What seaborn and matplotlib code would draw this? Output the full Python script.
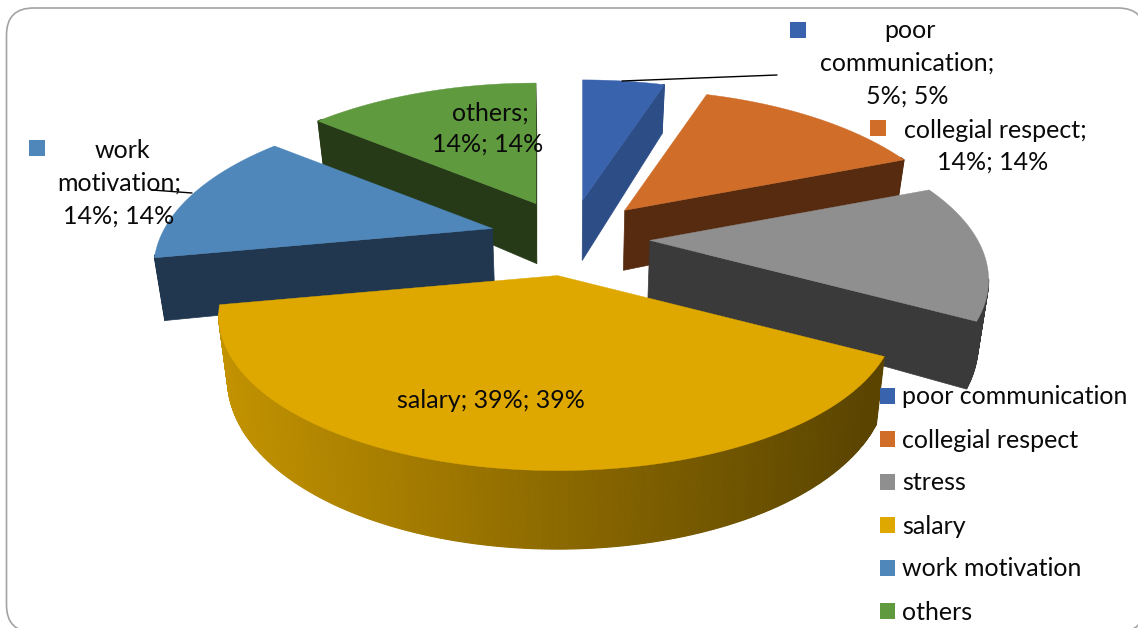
"""Exploded 3D style pie chart of reasons, drawn with seaborn/matplotlib"""
import numpy as np
import pandas as pd
import matplotlib
matplotlib.use('Agg')
import matplotlib.pyplot as plt
import seaborn as sns
from matplotlib.patches import FancyBboxPatch, Patch
from matplotlib.path import Path

categories = ['poor communication', 'collegial respect', 'stress', 'salary', 'work motivation', 'others']
values = [5, 14, 14, 39, 14, 14]
top_colors = ['#3a63ad', '#cf6d29', '#8f8f8f', '#dfa800', '#4f87bb', '#5f9a3e']
wall_colors = ['#2c4d85', '#572b0f', '#3a3a3a', '#8a6a00', '#20374f', '#263a18']

# pie geometry in pixels
CX, CY = 570, 238
EXPLODE_X, EXPLODE_Y = 80, 38
RX, RY = 328, 149
PERSPECTIVE_X, PERSPECTIVE_Y = 0.25, 0.236
DEPTH = 60
SHRINK = 0.975

# data label layout: (x, y) per text line and key square position
label_lines = {
    'poor communication': [('poor', 910, 31), ('communication;', 907, 63), (None, 907, 96)],
    'collegial respect': [('collegial respect;', 995, 130), (None, 993, 162)],
    'stress': [],
    'salary': [('salary; {0}%; {0}%', 491, 401)],
    'work motivation': [('work', 122, 151), ('motivation;', 119, 183), (None, 119, 216)],
    'others': [('others;', 490, 113), (None, 488, 144)],
}
key_pos = {
    'poor communication': (798, 30),
    'collegial respect': (878, 128),
    'salary': (373, 398),
    'work motivation': (37, 148),
}


def project(theta, apex, low=False):
    """Perspective position of a point on the pie rim, top or bottom face"""
    u, v = np.sin(theta), np.cos(theta)
    s = 1 / (1 + PERSPECTIVE_Y * v)
    x = apex[0] + RX * u / (1 + PERSPECTIVE_X * v)
    y = apex[1] - RY * v * s
    if low:
        x = CX + (x - CX) * SHRINK
        y = y + DEPTH * s
    return np.array([x, y])


def draw_slice(ax, start, end, top, wall, gradient=False):
    mid = (start + end) / 2
    apex = (CX + EXPLODE_X * np.sin(mid), CY - EXPLODE_Y * np.cos(mid))
    thetas = np.linspace(start, end, 320 if gradient else 90)
    outline = np.array([apex] + [project(t, apex) for t in thetas])
    path = Path(outline)

    # straight cut faces
    apex_low = (CX + (apex[0] - CX) * SHRINK, apex[1] + DEPTH)
    for t in (start, end):
        rim_top = project(t, apex)
        mid_pt = (rim_top + np.array(apex)) / 2
        if not path.contains_point(mid_pt + [0, 4]):
            poly = np.array([apex, rim_top, project(t, apex, low=True), apex_low])
            ax.fill(poly[:, 0], poly[:, 1], color=wall, lw=0.5, zorder=2)

    # curved outer face, only where it looks towards the viewer
    for a, b in zip(thetas[:-1], thetas[1:]):
        m = project((a + b) / 2, apex)
        if path.contains_point(m + [0, 3]):
            continue
        poly = np.array([project(a, apex), project(b, apex),
                         project(b, apex, low=True), project(a, apex, low=True)])
        color = wall
        if gradient:
            f = np.interp(m[0], [220, 870], [0, 1])
            color = tuple((1 - f) * np.array(matplotlib.colors.to_rgb('#c29200'))
                          + f * np.array(matplotlib.colors.to_rgb('#5a4400')))
        ax.fill(poly[:, 0], poly[:, 1], color=color, lw=0.8, zorder=2)

    ax.fill(outline[:, 0], outline[:, 1], color=top, lw=0.3, zorder=2)


sns.set_theme(style='white')
plt.rcParams['font.family'] = ['Lato', 'DejaVu Sans']

fig = plt.figure(figsize=(11.38, 6.28), dpi=100)
ax = fig.add_axes([0, 0, 1, 1])
ax.set_xlim(0, 1138)
ax.set_ylim(628, 0)
ax.axis('off')

# chart frame, runs off the right and bottom edge
ax.add_patch(FancyBboxPatch((6.5 + 27, 8 + 27), 1145 - 6.5 - 54, 632 - 8 - 54,
                            boxstyle='round,pad=27,rounding_size=27',
                            fc='white', ec='#a3a3a3', lw=1.2, zorder=1))

# slices from back to front
edges = np.cumsum([0] + values) / sum(values) * 2 * np.pi
order = np.argsort([-np.cos((edges[i] + edges[i + 1]) / 2) for i in range(len(values))])
for i in order:
    draw_slice(ax, edges[i], edges[i + 1], top_colors[i], wall_colors[i],
               gradient=categories[i] == 'salary')

# leader lines
ax.plot([622, 777], [81, 75], color='black', lw=1, zorder=3)
ax.plot([152, 192], [190, 193], color='black', lw=1, zorder=3)

# data labels
for name, val in zip(categories, values):
    for text, x, y in label_lines[name]:
        s = f'{val}%; {val}%' if text is None else text.format(val)
        ax.text(x, y, s, ha='center', va='center', fontsize=18, color='#0a0a0a', zorder=4)

keys = pd.DataFrame({'category': list(key_pos),
                     'x': [p[0] for p in key_pos.values()],
                     'y': [p[1] for p in key_pos.values()]})
sns.scatterplot(data=keys, x='x', y='y', hue='category', ax=ax, marker='s', s=120,
                palette=dict(zip(categories, top_colors)), linewidth=0, legend=False, zorder=4)
ax.set_xlim(0, 1138)
ax.set_ylim(628, 0)

# legend
handles = [Patch(facecolor=c, edgecolor='none') for c in top_colors]
ax.legend(handles, categories, loc='upper left', bbox_to_anchor=(880, 385.5),
          bbox_transform=ax.transData, frameon=False, fontsize=18,
          handlelength=0.6, handleheight=0.6, handletextpad=0.3,
          labelspacing=0.8, borderpad=0, borderaxespad=0, labelcolor='#0a0a0a')

fig.savefig('out.png', dpi=100)
